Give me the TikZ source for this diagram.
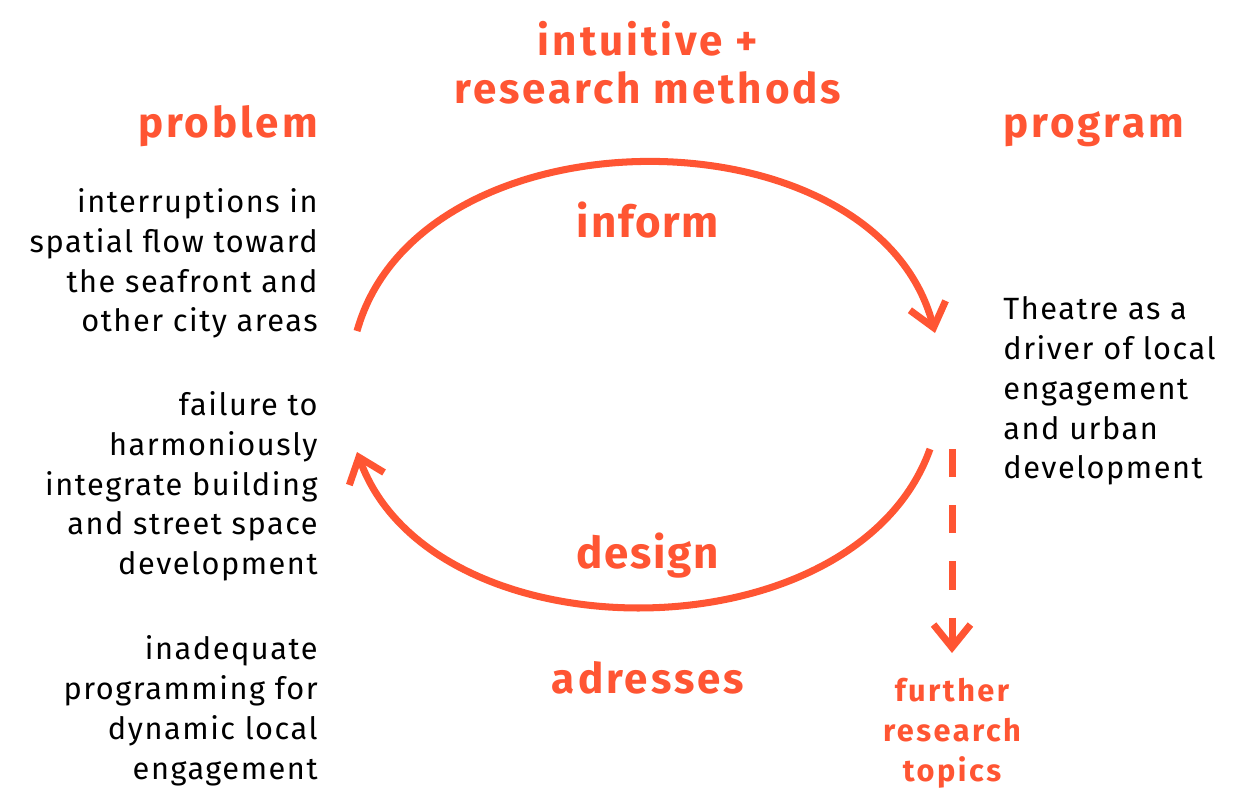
\documentclass[tikz,border=0pt]{standalone}
\usepackage{fontspec}
\setmainfont{Fira Sans}
\newfontfamily\headfont[LetterSpace=7]{Fira Sans}
\newfontfamily\verbfont[LetterSpace=4]{Fira Sans}
\newfontfamily\bodyfont[LetterSpace=5]{Fira Sans}
\newfontfamily\subfont[LetterSpace=8]{Fira Sans}
\usepackage{xcolor}
\usetikzlibrary{positioning,arrows.meta}
\definecolor{coral}{HTML}{FF5533}

\begin{document}
\begin{tikzpicture}[x=0.02cm, y=-0.02cm,
    head/.style={text=coral, inner sep=0pt, font=\headfont\bfseries\fontsize{24}{27.2}\selectfont},
    verb/.style={text=coral, inner sep=0pt, font=\verbfont\bfseries\fontsize{25}{27}\selectfont},
    body/.style={inner sep=0pt, font=\bodyfont\fontsize{17.5}{22.7}\selectfont},
    sub/.style={text=coral, inner sep=0pt, align=center, font=\subfont\bfseries\fontsize{17.5}{22.7}\selectfont},
    arcline/.style={draw=coral, line width=4pt, -{Straight Barb[length=13pt, width=21pt]}}]
  \useasboundingbox (0,0) rectangle (1239,799);

  % Titel oben
  \node[head, align=center, anchor=north] (methods) at (648,21) {intuitive +\\research methods};

  % Spalte links
  \node[head, anchor=base east] (problem) at (318,137) {problem};
  \node[body, align=right, anchor=north east] (prob1) at (318,188) {interruptions in\\spatial flow toward\\the seafront and\\other city areas};
  \node[body, align=right, anchor=north east] (prob2) at (318,391) {failure to\\harmoniously\\integrate building\\and street space\\development};
  \node[body, align=right, anchor=north east] (prob3) at (318,635) {inadequate\\programming for\\dynamic local\\engagement};

  % Spalte rechts
  \node[head, anchor=base west] (program) at (1003,137) {program};
  \node[body, align=left, anchor=north west] (prog1) at (1003,296) {Theatre as a\\driver of local\\engagement\\and urban\\development};

  % Mitte
  \node[verb, anchor=base] (inform) at (648,237) {inform};
  \node[verb, anchor=base] (design) at (648,568) {design};
  \node[head, anchor=base] (adresses) at (648,693) {adresses};

  % Enden der Pfeile
  \coordinate (upA) at (357,331);
  \coordinate (upB) at (935,333);
  \coordinate (loA) at (930,449);
  \coordinate (loB) at (357,452);
  \coordinate (dashA) at (952,449);
  \coordinate (dashB) at (952,653);

  % Kreislauf
  \draw[arcline] (upA) .. controls (420,106) and (875,106) .. (upB);
  \draw[arcline] (loA) .. controls (855,659) and (432,659) .. (loB);

  % weiterer Ausblick
  \draw[arcline, dash pattern=on 16pt off 16pt on 16pt off 16pt on 16pt off 16pt on 30pt] (dashA) -- (dashB);
  \node[sub, below=0.5cm of dashB] (topics) {further\\research\\topics};
\end{tikzpicture}
\end{document}
